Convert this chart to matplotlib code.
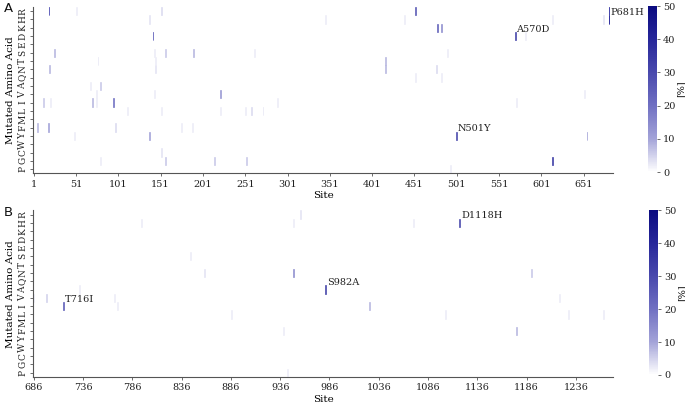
import numpy as np
import matplotlib
matplotlib.use("Agg")
import matplotlib.pyplot as plt
from matplotlib.colors import LinearSegmentedColormap

amino_acids = ["P", "G", "C", "W", "Y", "F", "M", "L", "I", "V",
               "A", "Q", "N", "T", "S", "E", "D", "K", "H", "R"]

# ---------------- Panel A: sites 1-685 ----------------
a_sites = [19, 52, 152, 452, 681,
           138, 346, 439, 614, 675, 681,
           478, 483,
           142, 570, 582,
           26, 144, 157, 190, 262, 490,
           77, 145, 417,
           20, 145, 417, 477,
           452, 483,
           68, 80,
           75, 144, 222, 652,
           13, 21, 70, 75, 95, 289, 572,
           112, 152, 222, 251, 258, 272,
           5, 18, 98, 176, 189,
           49, 138, 501, 655,
           152,
           80, 157, 215, 253, 614,
           494]
a_aas = ["R", "R", "R", "R", "R",
         "H", "H", "H", "H", "H", "H",
         "K", "K",
         "D", "D", "D",
         "S", "S", "S", "S", "S", "S",
         "T", "T", "T",
         "N", "N", "N", "N",
         "Q", "Q",
         "A", "A",
         "V", "V", "V", "V",
         "I", "I", "I", "I", "I", "I", "I",
         "L", "L", "L", "L", "L", "L",
         "F", "F", "F", "F", "F",
         "Y", "Y", "Y", "Y",
         "C",
         "G", "G", "G", "G", "G",
         "P"]
a_values = [22, 2, 4, 26, 30,
            3, 2, 2, 2, 3, 36,
            24, 14,
            18, 32, 2,
            8, 2, 6, 8, 2, 2,
            2, 2, 8,
            8, 3, 8, 4,
            2, 2,
            2, 6,
            2, 2, 12, 2,
            6, 2, 8, 2, 20, 2, 2,
            2, 2, 2, 2, 4, 2,
            8, 10, 4, 2, 2,
            2, 10, 30, 8,
            3,
            2, 6, 6, 6, 34,
            2]
a_label_sites = [681, 570, 501]
a_label_aas = ["H", "D", "Y"]
a_label_texts = ["P681H", "A570D", "N501Y"]
a_ticks = list(range(1, 686, 50))

# ---------------- Panel B: sites 686-1273 ----------------
b_sites = [957,
           795, 950, 1071, 1118,
           845,
           859, 950, 1191,
           732, 982,
           686, 699, 768, 1219,
           716, 771, 1027,
           887, 1104, 1229, 1264,
           939, 1176,
           943]
b_aas = ["R",
         "H", "H", "H", "H",
         "S",
         "N", "N", "N",
         "A", "A",
         "V", "V", "V", "V",
         "I", "I", "I",
         "L", "L", "L", "L",
         "F", "F",
         "P"]
b_values = [3,
            2, 2, 2, 30,
            2,
            3, 14, 6,
            2, 32,
            2, 5, 2, 2,
            25, 2, 8,
            2, 2, 2, 2,
            2, 8,
            2]
b_label_sites = [1118, 982, 716]
b_label_aas = ["H", "A", "I"]
b_label_texts = ["D1118H", "S982A", "T716I"]
b_ticks = list(range(686, 1274, 50))

plt.rcParams["font.family"] = ["DejaVu Serif"]
plt.rcParams["font.size"] = 7

cmap = LinearSegmentedColormap.from_list(
    "whnavy",
    [(0.0, "#ffffff"), (0.2, "#a3a3d8"), (0.4, "#7070c2"),
     (0.6, "#4949ad"), (0.8, "#27279a"), (1.0, "#0b0b80")])

fig = plt.figure(figsize=(6.85, 4.03), dpi=100)


def panel(ax_rect, cax_rect, start, end, sites, aas, values,
          lsites, laas, ltexts, ticks, letter, letter_y):
    ax = fig.add_axes(ax_rect)
    cax = fig.add_axes(cax_rect)
    n_sites = end - start + 1
    mat = np.zeros((len(amino_acids), n_sites))
    for s, a, v in zip(sites, aas, values):
        mat[amino_acids.index(a), s - start] = v
    mat = np.ma.masked_equal(mat, 0)
    xedges = np.arange(start, end + 2) - 0.5
    yedges = np.arange(len(amino_acids) + 1)
    mesh = ax.pcolormesh(xedges, yedges, mat, cmap=cmap, vmin=0, vmax=50,
                         antialiased=True, edgecolors="face", linewidth=0.45)
    ax.set_xlim(start - 0.5, end + 0.5)
    ax.set_ylim(0, len(amino_acids))
    ax.set_xticks(ticks)
    ax.set_xticklabels([str(t) for t in ticks])
    ax.set_yticks(np.arange(len(amino_acids)) + 0.5)
    ax.set_yticklabels(amino_acids, rotation=90, va="center")
    ax.set_xlabel("Site", fontsize=7.5, labelpad=2)
    ax.set_ylabel("Mutated Amino Acid", fontsize=7.5, labelpad=2)
    for sp in ["top", "right"]:
        ax.spines[sp].set_visible(False)
    for sp in ["left", "bottom"]:
        ax.spines[sp].set_color("#555555")
        ax.spines[sp].set_linewidth(0.8)
    ax.tick_params(axis="both", length=2.5, width=0.6, colors="#555555",
                   labelcolor="#222222", labelsize=7, pad=2)
    ax.tick_params(axis="y", labelsize=6.5)
    for s, a, t in zip(lsites, laas, ltexts):
        ax.text(s + 1.5, amino_acids.index(a) + 1.05, t, ha="left",
                va="baseline", fontsize=7, color="#222222", clip_on=False)
    cb = fig.colorbar(mesh, cax=cax, ticks=[0, 10, 20, 30, 40, 50])
    cb.outline.set_visible(False)
    cb.ax.tick_params(length=2.5, width=0.6, colors="#555555",
                      labelcolor="#222222", labelsize=7, pad=2)
    cb.set_label("[%]", fontsize=7, labelpad=0.5)
    fig.text(0.006, letter_y, letter, fontsize=9.5,
             family="DejaVu Sans", color="#111111", va="center")
    return ax


panel([0.0486, 0.570, 0.846, 0.4127], [0.946, 0.573, 0.0131, 0.412],
      1, 685, a_sites, a_aas, a_values,
      a_label_sites, a_label_aas, a_label_texts, a_ticks, "A", 0.978)
panel([0.0486, 0.0648, 0.846, 0.4129], [0.947, 0.0695, 0.0131, 0.409],
      686, 1273, b_sites, b_aas, b_values,
      b_label_sites, b_label_aas, b_label_texts, b_ticks, "B", 0.472)

fig.savefig("out.png", dpi=100)
